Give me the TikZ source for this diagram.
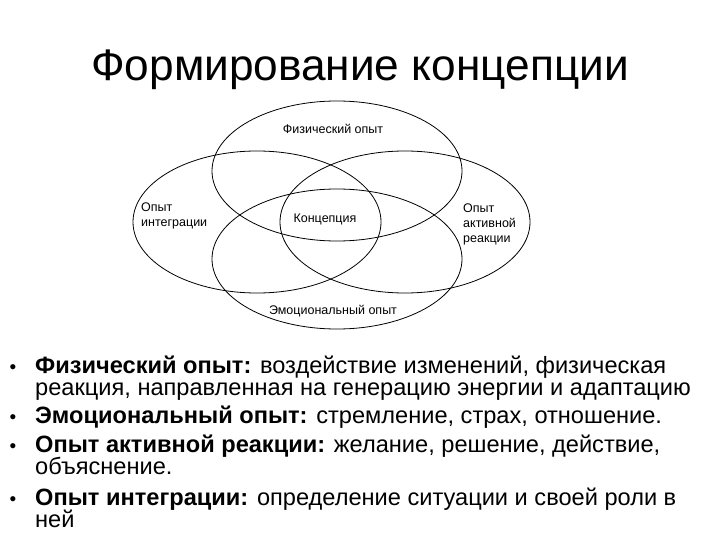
\documentclass[tikz,border=0pt]{standalone}
\usepackage{fontspec}
\setmainfont{Liberation Sans}
\begin{document}
\begin{tikzpicture}[x=1pt,y=-1pt,
  ring/.style={line width=0.8pt},
  lbl/.style={font=\fontsize{12.5}{15}\selectfont, inner sep=0pt},
  txt/.style={anchor=base west, inner sep=0pt, font=\fontsize{23.6}{24}\selectfont},
  dot/.style={anchor=base, inner sep=0pt, font=\fontsize{19}{24}\selectfont}]
\useasboundingbox (0,0) rectangle (720,540);
\node (T) at (360,70) {\fontsize{44.2}{50}\selectfont Формирование концепции};

% four overlapping ellipses
\coordinate (top) at (337,171);
\coordinate (bot) at (337,259);
\coordinate (lft) at (257,222);
\coordinate (rgt) at (405,222);
\draw[ring] (top) ellipse (125 and 70);
\draw[ring] (bot) ellipse (125 and 70);
\draw[ring] (lft) ellipse (124 and 71);
\draw[ring] (rgt) ellipse (125 and 71);

\node[lbl] (F) at (333,129) {Физический опыт};
\node[lbl] (E) at (333,311) {Эмоциональный опыт};
\node[lbl] (K) at (325,219) {Концепция};
\node[lbl, anchor=west, align=left] (I) at (141,216) {Опыт\\интеграции};
\node[lbl, anchor=west, align=left] (A) at (463,224) {Опыт\\активной\\реакции};

% bullet list
\node[dot] (d1) at (13,373) {•};
\node[txt] (b1) at (35,373) {\textbf{Физический опыт:} воздействие изменений, физическая};
\node[txt] (b1a) at (35,395) {реакция, направленная на генерацию энергии и адаптацию};
\node[dot] (d2) at (13,423) {•};
\node[txt] (b2) at (35,423) {\textbf{Эмоциональный опыт:} стремление, страх, отношение.};
\node[dot] (d3) at (13,452) {•};
\node[txt] (b3) at (35,452) {\textbf{Опыт активной реакции:} желание, решение, действие,};
\node[txt] (b3a) at (35,474) {объяснение.};
\node[dot] (d4) at (13,505) {•};
\node[txt] (b4) at (35,505) {\textbf{Опыт интеграции:} определение ситуации и своей роли в};
\node[txt] (b4a) at (35,527) {ней};
\end{tikzpicture}
\end{document}
